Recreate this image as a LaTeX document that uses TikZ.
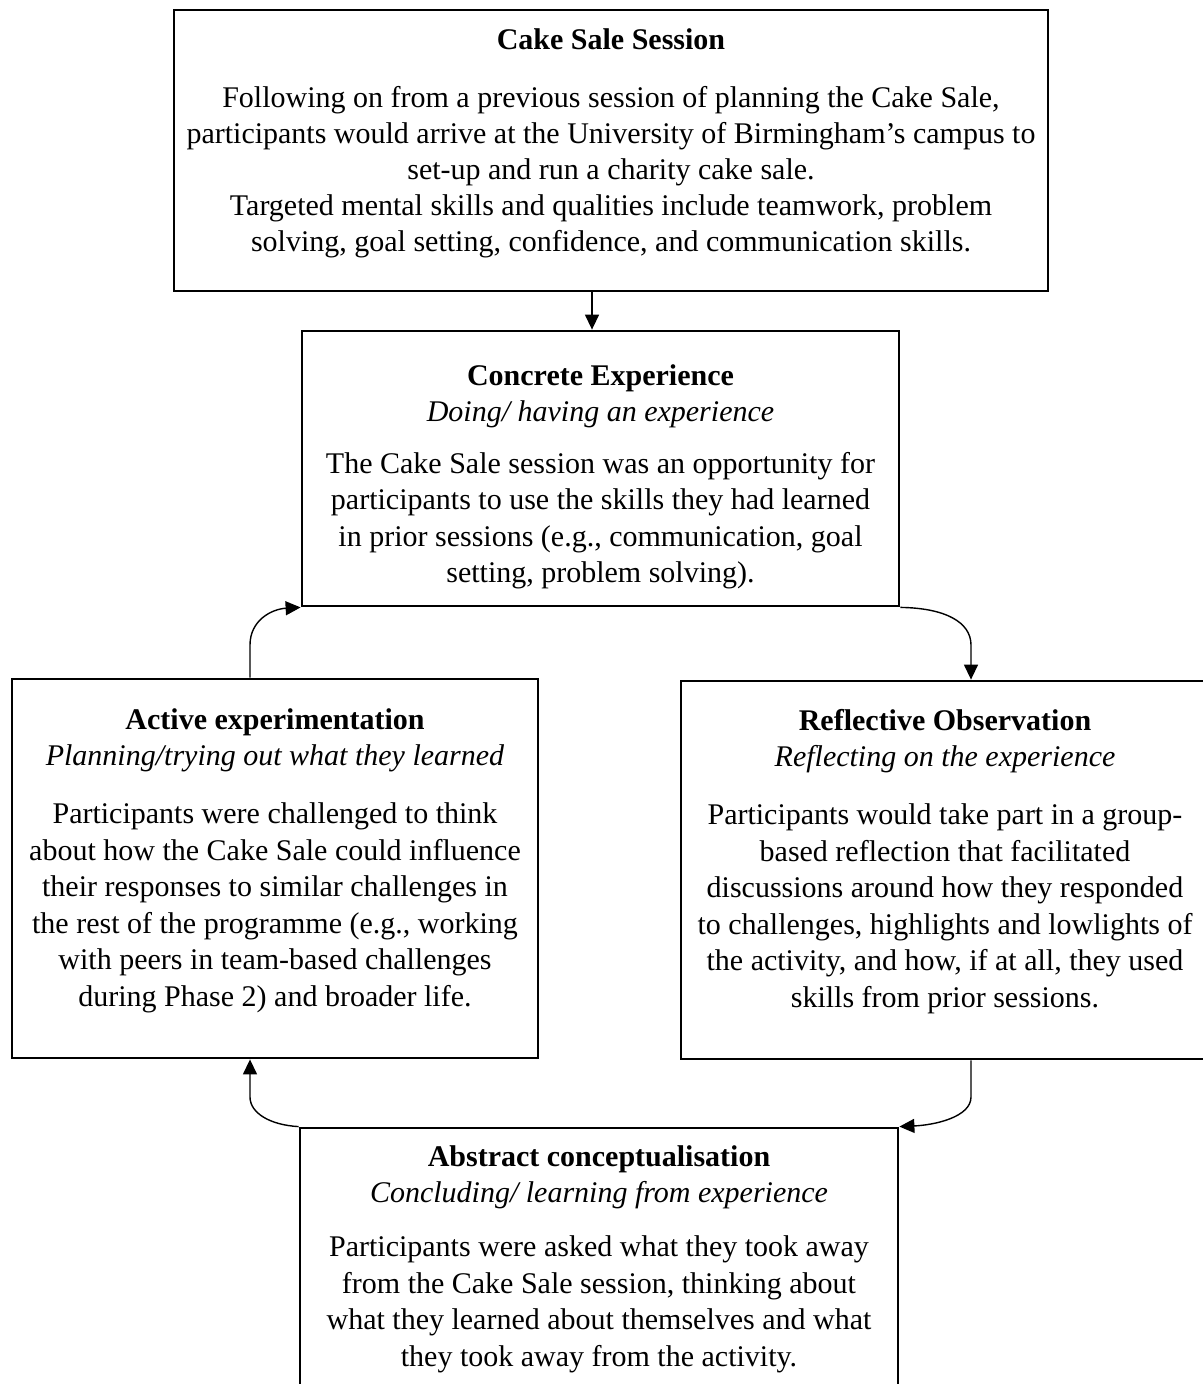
\documentclass[tikz,border=0pt]{standalone}
\usepackage{fontspec}
\setmainfont{Liberation Serif}
\usetikzlibrary{arrows.meta}
\begin{document}
\begin{tikzpicture}[x=1pt,y=-1pt,
  panel/.style={draw=black, line width=2.8pt, inner sep=0pt},
  body/.style={align=center, inner sep=0pt, anchor=base,
    font=\fontsize{30}{36.5}\selectfont},
  flow/.style={line width=1.4pt, -{Triangle[length=15pt,width=14pt]}}]
\useasboundingbox (0,0) rectangle (1202,1384);

% boxes of the cycle
\node[panel, minimum width=874pt, minimum height=281pt] (top)  at (611,150.5) {};
\node[panel, minimum width=597pt, minimum height=275pt] (conc) at (600.5,468.5) {};
\node[panel, minimum width=526pt, minimum height=379pt] (act)  at (275,868.5) {};
\node[panel, minimum width=528pt, minimum height=378pt] (refl) at (945,870) {};
\node[panel, minimum width=598pt, minimum height=272pt] (abst) at (599,1264) {};

% texts (each placed by the baseline of its last line)
\node[body, font=\fontsize{30}{36}\selectfont] (topTxt) at (611,251)
  {\textbf{Cake Sale Session}\\[22pt]
  Following on from a previous session of planning the Cake Sale,\\
  participants would arrive at the University of Birmingham’s campus to\\
  set-up and run a charity cake sale.\\
  Targeted mental skills and qualities include teamwork, problem\\
  solving, goal setting, confidence, and communication skills.};

\node[body] (concTxt) at (600.5,582.5) {\textbf{Concrete Experience}\\
  \textit{Doing/ having an experience}\\[15pt]
  The Cake Sale session was an opportunity for\\
  participants to use the skills they had learned\\
  in prior sessions (e.g., communication, goal\\
  setting, problem solving).};

\node[body] (actTxt) at (275,1006) {\textbf{Active experimentation}\\
  \textit{Planning/trying out what they learned}\\[21.5pt]
  Participants were challenged to think\\
  about how the Cake Sale could influence\\
  their responses to similar challenges in\\
  the rest of the programme (e.g., working\\
  with peers in team-based challenges\\
  during Phase 2) and broader life.};

\node[body] (reflTxt) at (945,1007) {\textbf{Reflective Observation}\\
  \textit{Reflecting on the experience}\\[21.5pt]
  Participants would take part in a group-\\
  based reflection that facilitated\\
  discussions around how they responded\\
  to challenges, highlights and lowlights of\\
  the activity, and how, if at all, they used\\
  skills from prior sessions.};

\node[body] (abstTxt) at (599,1366) {\textbf{Abstract conceptualisation}\\
  \textit{Concluding/ learning from experience}\\[17.5pt]
  Participants were asked what they took away\\
  from the Cake Sale session, thinking about\\
  what they learned about themselves and what\\
  they took away from the activity.};

% connectors
\coordinate (k1) at (592,0);
\coordinate (k2) at (971,0);
\coordinate (k3) at (250,0);

\draw[flow] (top.south -| k1) -- (conc.north -| k1);
\draw[flow] (conc.south east) .. controls (945,608) and (971,622) .. (971,645)
  -- (refl.north -| k2);
\draw[flow] (refl.south -| k2) -- (971,1097) .. controls (971,1117) and (935,1125)
  .. (abst.north east);
\draw[flow] (abst.north west) .. controls (270,1125) and (250,1113) .. (250,1097)
  -- (act.south -| k3);
\draw[flow] (act.north -| k3) -- (250,645) .. controls (250,620) and (272,609)
  .. (conc.south west);
\end{tikzpicture}
\end{document}
